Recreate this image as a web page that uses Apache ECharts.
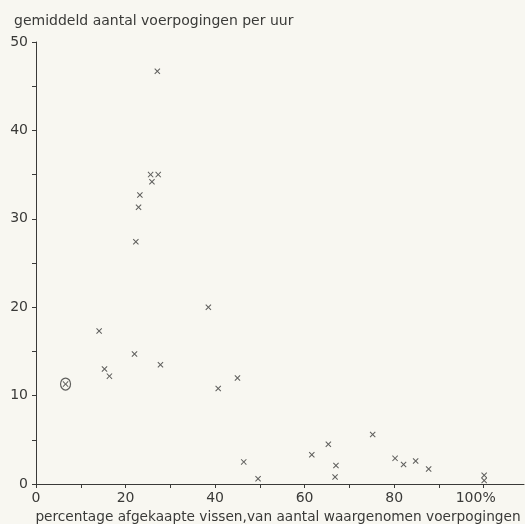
<!DOCTYPE html>
<html>
<head>
<meta charset="utf-8">
<script src="https://cdn.jsdelivr.net/npm/echarts@6/dist/echarts.min.js"></script>
<style>
  html, body { margin: 0; padding: 0; background: #f8f7f1; }
  #chart { width: 525px; height: 524px; }
</style>
</head>
<body>
<div id="chart"></div>
<script>
// percentage afgekaapte vissen (x) en gemiddeld aantal voerpogingen per uur (y)
const pctStolen = [
  27.1, 25.6, 27.3, 25.9, 23.2, 22.9, 22.3,
  38.5, 14.1, 22.0, 27.8, 15.3, 16.4, 45.0, 40.7, 46.4, 49.6,
  61.6, 65.3, 67.0, 66.8, 75.2, 80.2, 82.1, 84.8, 87.7, 100.1, 100.1
]
const attemptsPerHour = [
  46.7, 35.0, 35.0, 34.2, 32.7, 31.3, 27.4,
  20.0, 17.3, 14.7, 13.5, 13.0, 12.2, 12.0, 10.8, 2.5, 0.6,
  3.3, 4.5, 2.1, 0.8, 5.6, 2.9, 2.2, 2.6, 1.7, 1.0, 0.4
]
// omcirkeld punt
const circledPoint = [6.6, 11.3]

const xTicks = [0, 10, 20, 30, 40, 50, 60, 70, 80, 90, 100]
const xLabels = [0, 20, 40, 60, 80, 100]
const yTicks = [0, 5, 10, 15, 20, 25, 30, 35, 40, 45, 50]
const yLabels = [0, 10, 20, 30, 40, 50]

const ink = '#3a3a38'
const font = 'DejaVu Sans'
const cross = 'path://M0,1.2L1.2,0L5,3.8L8.8,0L10,1.2L6.2,5L10,8.8L8.8,10L5,6.2L1.2,10L0,8.8L3.8,5Z'

const chart = echarts.init(document.getElementById('chart'))
chart.setOption({
  backgroundColor: '#f8f7f1',
  animation: false,
  title: {
    text: 'gemiddeld aantal voerpogingen per uur',
    left: 9, top: 9,
    textStyle: { fontFamily: font, fontSize: 14, fontWeight: 'normal', color: ink },
  },
  grid: { left: 36, right: 1, top: 42, bottom: 40, outerBoundsMode: 'none' },
  xAxis: {
    type: 'value', min: 0, max: 109,
    name: 'percentage afgekaapte vissen,van aantal waargenomen voerpogingen',
    nameLocation: 'middle', nameGap: 26,
    nameTextStyle: { fontFamily: font, fontSize: 13.7, color: ink, padding: [0, 4, 0, 0] },
    splitLine: { show: false },
    axisLine: { lineStyle: { color: ink, width: 1 } },
    axisTick: { customValues: xTicks, length: 4, lineStyle: { color: ink } },
    axisLabel: {
      customValues: xLabels, margin: 7,
      fontFamily: font, fontSize: 14, color: ink,
      formatter: (v) => v === 100 ? '{pct|100%}' : String(v),
      rich: { pct: { fontFamily: font, fontSize: 14, color: ink, padding: [0, 16, 0, 0] } },
    },
  },
  yAxis: {
    type: 'value', min: 0, max: 50,
    splitLine: { show: false },
    axisLine: { show: true, lineStyle: { color: ink, width: 1 } },
    axisTick: { customValues: yTicks, length: 4, lineStyle: { color: ink } },
    axisLabel: {
      customValues: yLabels, margin: 8,
      fontFamily: font, fontSize: 14, color: ink,
    },
  },
  series: [
    {
      type: 'scatter',
      data: pctStolen.map((x, i) => [x, attemptsPerHour[i]]),
      symbol: cross, symbolSize: 6,
      itemStyle: { color: ink },
    },
    {
      type: 'scatter',
      data: [circledPoint],
      symbol: cross, symbolSize: 6,
      itemStyle: { color: ink },
    },
    {
      type: 'scatter',
      data: [circledPoint],
      symbol: 'circle', symbolSize: [10, 12],
      itemStyle: { color: 'rgba(0,0,0,0)', borderColor: ink, borderWidth: 1.3 },
    },
  ],
})
window.addEventListener('resize', () => chart.resize())
</script>
</body>
</html>
